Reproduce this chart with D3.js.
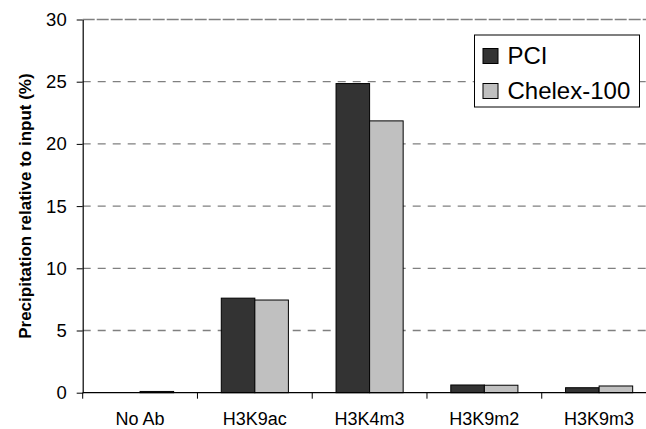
<!DOCTYPE html>
<html>
<head>
<meta charset="utf-8">
<script src="https://cdn.jsdelivr.net/npm/d3@7"></script>
<style>
  body { margin: 0; background: #fff; }
  text { font-family: "Liberation Sans", Arial, sans-serif; }
</style>
</head>
<body>
<div id="chart"></div>
<script>
// data
var categories = ["No Ab", "H3K9ac", "H3K4m3", "H3K9m2", "H3K9m3"];
var seriesNames = ["PCI", "Chelex-100"];
var pciValues = [0, 7.6, 24.85, 0.62, 0.4];
var chelexValues = [0.1, 7.45, 21.85, 0.6, 0.54];
var yTicks = [0, 5, 10, 15, 20, 25, 30];
var colours = ["#333333", "#c0c0c0"];

var width = 646, height = 429;

// plot area (the right side runs off the picture, like the original)
var plotLeft = 82.7, plotRight = 656.5, plotTop = 19.5, plotBottom = 392.7;

var svg = d3.select("#chart")
  .append("svg")
  .attr("width", width)
  .attr("height", height);

var x = d3.scaleBand()
  .domain(categories)
  .range([plotLeft, plotRight]);

var inner = d3.scaleBand()
  .domain(seriesNames)
  .range([0, x.bandwidth()])
  .paddingInner(0)
  .paddingOuter(0.71);

var y = d3.scaleLinear()
  .domain([0, 30])
  .range([plotBottom, plotTop]);

// gridlines
svg.append("g")
  .selectAll("line")
  .data(yTicks.filter(function(d){ return d > 0; }))
  .enter().append("line")
  .attr("x1", plotLeft)
  .attr("x2", plotRight)
  .attr("y1", function(d){ return y(d); })
  .attr("y2", function(d){ return y(d); })
  .attr("stroke", "#808080")
  .attr("stroke-width", 1.3)
  .attr("stroke-dasharray", function(d){ return d == 30 ? "12,2" : "8,7"; });

// bars
var rows = categories.map(function(c, i){
  return [{ s: seriesNames[0], c: c, v: pciValues[i] }, { s: seriesNames[1], c: c, v: chelexValues[i] }];
});

svg.append("g")
  .selectAll("g")
  .data(rows)
  .enter().append("g")
  .attr("transform", function(d){ return "translate(" + x(d[0].c) + ",0)"; })
  .selectAll("rect")
  .data(function(d){ return d; })
  .enter().append("rect")
  .attr("x", function(d){ return inner(d.s); })
  .attr("width", inner.bandwidth())
  .attr("y", function(d){ return y(d.v); })
  .attr("height", function(d){ return plotBottom - y(d.v); })
  .attr("fill", function(d, i){ return colours[i]; })
  .attr("stroke", "#000")
  .attr("stroke-width", 1);

// y axis
var yAxis = svg.append("g")
  .attr("transform", "translate(" + plotLeft + ",0)")
  .call(d3.axisLeft(y).tickValues(yTicks).tickSize(6).tickPadding(10).tickSizeOuter(0));
yAxis.select(".domain").attr("stroke", "#000").attr("stroke-width", 1.2);
yAxis.selectAll(".tick line").attr("stroke", "#000");
yAxis.selectAll("text")
  .attr("font-size", "18.5px")
  .attr("fill", "#000")
  .style("font-family", "'Liberation Sans', Arial, sans-serif");

// x axis, ticks sit between the categories
var xAxis = svg.append("g")
  .attr("transform", "translate(0," + plotBottom + ")");
xAxis.append("line")
  .attr("x1", plotLeft).attr("x2", plotRight)
  .attr("stroke", "#000").attr("stroke-width", 1.2);
xAxis.selectAll(".sep")
  .data(categories)
  .enter().append("line")
  .attr("class", "sep")
  .attr("x1", function(d){ return x(d); })
  .attr("x2", function(d){ return x(d); })
  .attr("y1", 0).attr("y2", 6)
  .attr("stroke", "#000");
xAxis.selectAll(".lab")
  .data(categories)
  .enter().append("text")
  .attr("class", "lab")
  .attr("x", function(d){ return x(d) + x.bandwidth() / 2; })
  .attr("y", 32)
  .attr("text-anchor", "middle")
  .attr("font-size", "18px")
  .text(function(d){ return d; });

// y title
svg.append("text")
  .attr("transform", "translate(31," + ((plotTop + plotBottom) / 2) + ") rotate(-90)")
  .attr("text-anchor", "middle")
  .attr("font-size", "17px")
  .attr("font-weight", "bold")
  .text("Precipitation relative to input (%)");

// legend
var legend = svg.append("g").attr("transform", "translate(474.5,35)");
legend.append("rect")
  .attr("width", 165)
  .attr("height", 72)
  .attr("fill", "#fff")
  .attr("stroke", "#000")
  .attr("stroke-width", 1);
var item = legend.selectAll(".item")
  .data(seriesNames)
  .enter().append("g")
  .attr("class", "item")
  .attr("transform", function(d, i){ return "translate(0," + (i * 35) + ")"; });
item.append("rect")
  .attr("x", 8.5).attr("y", 13.5)
  .attr("width", 15).attr("height", 15)
  .attr("fill", function(d, i){ return colours[i]; })
  .attr("stroke", "#000");
item.append("text")
  .attr("x", 33)
  .attr("y", 29)
  .attr("font-size", "24px")
  .text(function(d){ return d; });
</script>
</body>
</html>
